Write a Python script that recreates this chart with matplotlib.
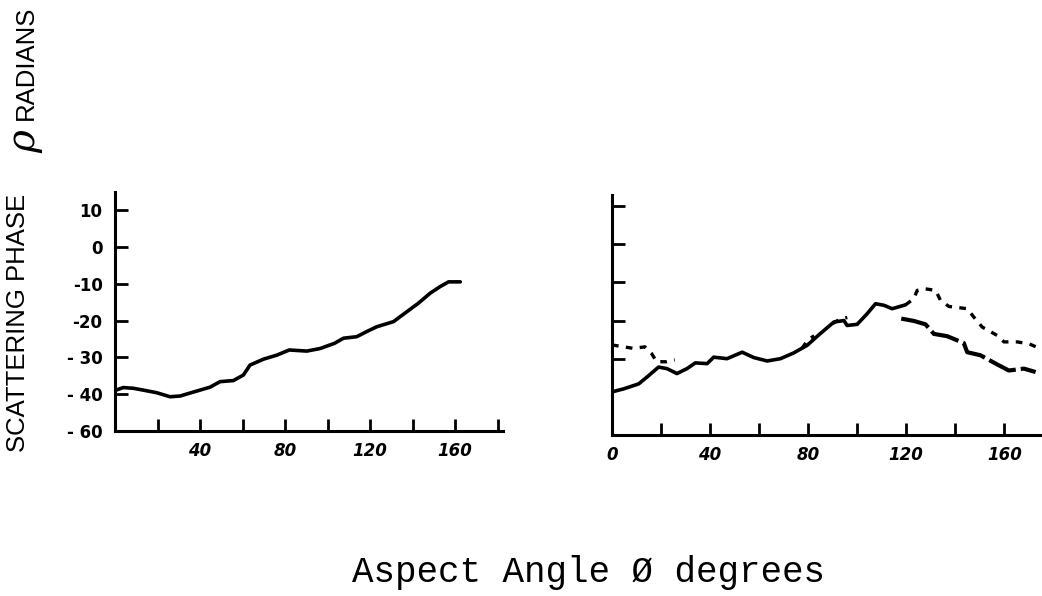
import numpy as np
import matplotlib
matplotlib.use("Agg")
import matplotlib.pyplot as plt

# ---- data ----
left_deg = [0, 3.9, 8.6, 13.3, 19.6, 25.9, 30.6, 37.6, 44.7, 49.4, 55.7, 60.4, 63.5,
            69.8, 76.1, 82.0, 90.2, 96.5, 103.2, 107.5, 113.7, 118.4, 123.1, 131.0,
            137.3, 142.7, 148.2, 152.9, 156.9, 162.4]
left_val = [-39.0, -38.2, -38.4, -38.9, -39.6, -40.7, -40.5, -39.3, -38.1, -36.6,
            -36.3, -34.8, -32.1, -30.5, -29.4, -28.0, -28.3, -27.6, -26.2, -24.8, -24.4,
            -23.0, -21.7, -20.3, -17.6, -15.3, -12.6, -10.8, -9.5, -9.5]

right_solid_deg = [0, 4.8, 10.9, 14.3, 19.0, 22.4, 26.5, 30.6, 34.0, 38.8, 41.5, 46.9, 53.1,
                   57.8, 63.3, 68.7, 74.1, 79.6, 85.0, 90.5, 94.6, 95.9, 100.0, 104.1,
                   107.5, 110.9, 114.3, 119.7]
right_solid_val = [-38.7, -37.9, -36.6, -34.8, -32.2, -32.6, -33.9, -32.6, -31.1, -31.3,
                   -29.6, -30.0, -28.3, -29.7, -30.6, -30.0, -28.5, -26.5, -23.4, -20.4,
                   -20.0, -21.3, -21.0, -18.2, -15.6, -16.0, -16.9, -15.9]

right_dotted_deg = [0, 8.7, 13.4, 16.1, 18.2, 22.2, 25.6, np.nan,
                    77.5, 80.0, 82.5, np.nan, 90.0, 93.0, 96.0, np.nan,
                    119.7, 123.1, 124.5, 127.9, 132.0, 134.0, 137.4, 144.9, 147.6, 151.0,
                    157.1, 159.9, 165.3, 170.1, 174.8]
right_dotted_val = [-26.4, -27.3, -26.9, -28.6, -30.8, -30.8, -30.3, np.nan,
                    -27.3, -25.0, -24.0, np.nan, -20.8, -19.6, -19.2, np.nan,
                    -15.9, -14.3, -12.1, -11.7, -12.1, -14.7, -16.3, -16.9, -19.1, -21.7,
                    -23.9, -25.6, -25.6, -26.1, -27.4]

right_dashed_deg = [118.0, 123.1, 127.9, 131.3, 136.7, 143.5, 144.9, 150.3, 157.1, 161.9,
                    168.0, 172.8]
right_dashed_val = [-19.5, -20.1, -21.0, -23.5, -24.1, -25.9, -28.3, -29.1, -31.5, -33.1,
                    -32.6, -33.5]

left_yticks = [10, 0, -10, -20, -30, -40, -50]
left_yticklabels = ["10", "0", "-10", "-20", "- 30", "- 40", "- 60"]
right_yticks = [10, 0, -10, -20, -30]
xticks = [20, 40, 60, 80, 100, 120, 140, 160, 180]
left_xticklabels = ["", "40", "", "80", "", "120", "", "160", ""]
right_xticks = [0, 20, 40, 60, 80, 100, 120, 140, 160]
right_xticklabels = ["0", "", "40", "", "80", "", "120", "", "160"]

W, H = 1042, 596
fig = plt.figure(figsize=(W / 100, H / 100), dpi=100)

def px_axes(x0, x1, ybot, ytop):
    return fig.add_axes([x0 / W, (H - ybot) / H, (x1 - x0) / W, (ybot - ytop) / H])

axL = px_axes(115, 503, 431, 192)
axR = px_axes(612, 1041, 435, 195)

for ax in (axL, axR):
    ax.spines["top"].set_visible(False)
    ax.spines["right"].set_visible(False)
    for s in ("left", "bottom"):
        ax.spines[s].set_linewidth(2.2)
    ax.tick_params(direction="in", length=9, width=2, colors="black")
    ax.patch.set_alpha(0)

# left panel
axL.set_xlim(0, 182.5)
axL.set_ylim(-50, 14.9)
axL.plot(left_deg, left_val, color="black", lw=2.6, solid_capstyle="round")
axL.set_yticks(left_yticks)
axL.set_yticklabels(left_yticklabels, fontsize=12, fontweight="bold")
axL.set_xticks(xticks)
axL.set_xticklabels(left_xticklabels, fontsize=12, fontweight="bold", fontstyle="italic")
axL.tick_params(axis="y", pad=9)
axL.tick_params(axis="x", pad=8)

# right panel
axR.set_xlim(0, 175)
axR.set_ylim(-50, 12.9)
axR.plot(right_solid_deg, right_solid_val, color="black", lw=2.6, solid_capstyle="round")
axR.plot(right_dotted_deg, right_dotted_val, color="black", lw=2.4,
         linestyle=(0, (2.0, 2.2)))
axR.plot(right_dashed_deg, right_dashed_val, color="black", lw=3.0,
         linestyle=(0, (7, 1.2)))
axR.set_yticks(right_yticks)
axR.set_yticklabels([])
axR.set_xticks(right_xticks)
axR.set_xticklabels(right_xticklabels, fontsize=12, fontweight="bold", fontstyle="italic")
axR.tick_params(axis="x", pad=8)

# y-axis title (vertical, in pieces as in the original lettering)
fig.text(18 / W, 1 - 323 / H, "SCATTERING PHASE", rotation=90,
         ha="center", va="center", fontsize=18.5, family="Liberation Sans")
fig.text(25 / W, 1 - 142 / H, "\u03c1", rotation=90, ha="center", va="center",
         fontsize=28, fontstyle="italic", family="DejaVu Serif")
fig.text(26 / W, 1 - 63 / H, "RADIANS", rotation=90,
         ha="center", va="center", fontsize=18.5, family="Liberation Sans")

fig.text(588 / W, 1 - 573 / H, "Aspect Angle \u00d8 degrees", ha="center", va="center",
         fontsize=25.8, family="Liberation Mono")

fig.savefig("out.png", dpi=100)
